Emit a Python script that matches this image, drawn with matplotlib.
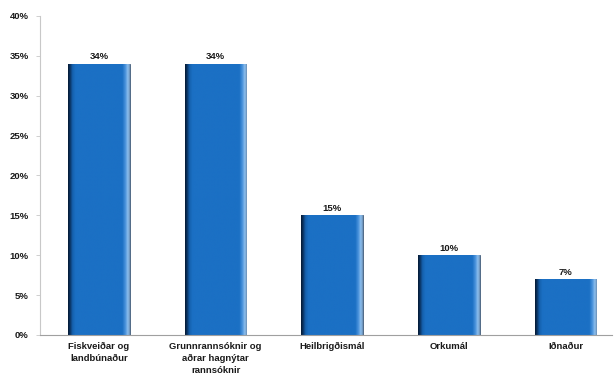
import numpy as np
import matplotlib
matplotlib.use("Agg")
import matplotlib.pyplot as plt
from matplotlib.colors import LinearSegmentedColormap

categories = ["Fiskveiðar og\nlandbúnaður",
              "Grunnrannsóknir og\naðrar hagnýtar\nrannsóknir",
              "Heilbrigðismál",
              "Orkumál",
              "Iðnaður"]
shares = [34, 34, 15, 10, 7]
yticks = [0, 5, 10, 15, 20, 25, 30, 35, 40]

plt.rcParams['font.family'] = ['Liberation Sans', 'DejaVu Sans']

fig = plt.figure(figsize=(6.14, 3.89), dpi=100)
ax = fig.add_axes([0.065, 0.139, 0.932, 0.82])

x = np.arange(len(shares))
bars = ax.bar(x, shares, width=0.53, color='#1b6fc2', edgecolor='#4a5f78', linewidth=0.6, zorder=2)

# horizontal shading on each bar: dark left edge, light right edge
shade = LinearSegmentedColormap.from_list('shade', [
    (0.0, '#051a35'), (0.03, '#0a3260'), (0.07, '#1560ad'), (0.12, '#1b70c4'),
    (0.88, '#1b70c4'), (0.93, '#4a93dc'), (0.97, '#8fc0ee'), (1.0, '#6a90b8')])
grad = np.linspace(0, 1, 300).reshape(1, -1)
for b in bars:
    x0, w, h = b.get_x(), b.get_width(), b.get_height()
    im = ax.imshow(grad, cmap=shade, aspect='auto', extent=[x0, x0 + w, 0, h],
                   zorder=2.5, interpolation='bilinear')
    im.set_clip_path(b)

for xi, v in zip(x, shares):
    ax.text(xi, v + 0.3, f"{v}%", ha='center', va='bottom', fontsize=6.8,
            fontweight='bold', color='#1a1a1a')

ax.set_xlim(-0.506, 4.40)
ax.set_ylim(0, 40)
ax.set_yticks(yticks)
ax.set_yticklabels([f"{t}%" for t in yticks], fontsize=6.8, fontweight='bold', color='#1a1a1a')
ax.set_xticks(x)
ax.set_xticklabels(categories, fontsize=6.8, fontweight='bold', color='#1a1a1a', linespacing=1.45)
ax.tick_params(axis='x', length=0, pad=5)
ax.tick_params(axis='y', length=3, width=0.6, color='#c8c8c8', pad=5)

for s in ['top', 'right']:
    ax.spines[s].set_visible(False)
ax.spines['left'].set_color('#c8c8c8')
ax.spines['left'].set_linewidth(0.8)
ax.spines['bottom'].set_color('#a0a0a0')
ax.spines['bottom'].set_linewidth(0.8)

fig.savefig("out.png", dpi=100)
